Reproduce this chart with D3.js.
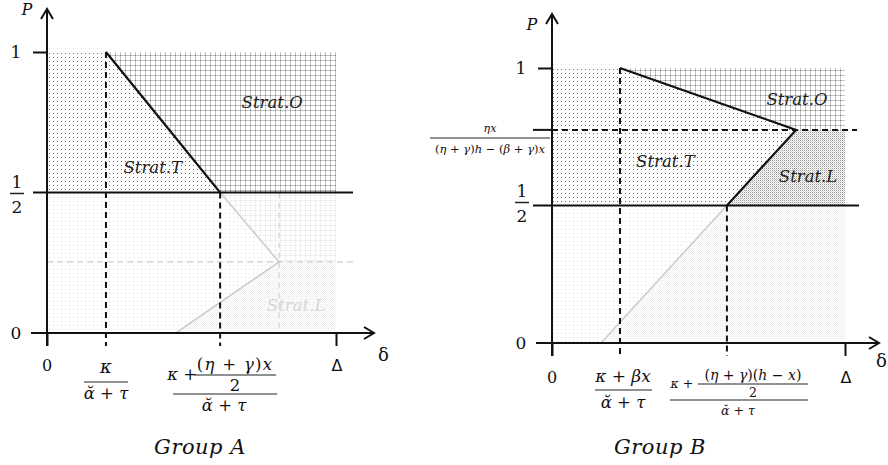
<!DOCTYPE html>
<html><head><meta charset="utf-8">
<script src="https://cdn.jsdelivr.net/npm/d3@7"></script>
<style>body{margin:0;background:#fff}svg{display:block}</style>
</head><body>
<script>
// ---------- DATA ----------
const DELTA = 1;
const groupNames = ["Group A", "Group B"];
const pTicks = [0, 0.5, 1];
// Group A: black boundary (δ, P) and faded continuation
const aBlackX = [0.204, 0.599];
const aBlackP = [1, 0.5];
const aGrayX = [0.599, 0.803, 0.446];
const aGrayP = [0.5, 0.253, 0];
// Group B
const bBlackX = [0.232, 0.833, 0.597];
const bBlackP = [1, 0.775, 0.5];
const bGrayX = [0.597, 0.167];
const bGrayP = [0.5, 0];
const stratLabels = ["Strat.O", "Strat.T", "Strat.L"];

// ---------- SETUP ----------
const W = 888, H = 465;
const svg = d3.select("body").append("svg").attr("width", W).attr("height", H);
const defs = svg.append("defs");
function pat(id, size, cells, bg) {
  const p = defs.append("pattern").attr("id", id).attr("patternUnits", "userSpaceOnUse")
    .attr("x", 0).attr("y", 0).attr("width", size).attr("height", size);
  p.append("rect").attr("width", size).attr("height", size).attr("fill", bg || "#fff");
  cells.forEach(c => p.append("rect").attr("x", c[0]).attr("y", c[1]).attr("width", c[2]).attr("height", c[3]).attr("fill", c[4]));
}
pat("dots", 4, [[1, 1, 1, 1, "#707070"]]);
pat("grid", 5, [[0, 0, 5, 1, "#c4c4c4"], [0, 0, 1, 5, "#c4c4c4"], [0, 0, 1, 1, "#808080"]]);
pat("dense", 2, [[0, 0, 1, 1, "#999"], [1, 1, 1, 1, "#d4d4d4"]]);

const serif = "'DejaVu Serif', 'Liberation Serif', serif";

function txt(g, x, y, s, opt) {
  opt = opt || {};
  return g.append("text").attr("x", x).attr("y", y).text(s)
    .attr("text-anchor", opt.anchor || "middle")
    .attr("font-family", opt.family || serif)
    .attr("font-size", opt.size || 16)
    .attr("font-style", opt.style || "normal")
    .attr("letter-spacing", opt.ls || 0)
    .attr("fill", opt.fill || "#111");
}
// math text: letters italic, operators/digits upright
function mtxt(g, x, y, s, size, ls) {
  const t = g.append("text").attr("x", x).attr("y", y).attr("text-anchor", "middle")
    .attr("font-family", serif).attr("font-size", size).attr("fill", "#111")
    .attr("letter-spacing", ls || 0);
  const runs = s.match(/([A-Za-zα-ωᾰ]+|[^A-Za-zα-ωᾰ]+)/g);
  runs.forEach(r => t.append("tspan").text(r)
    .attr("font-style", /[A-Za-zα-ωᾰ]/.test(r) ? "italic" : "normal"));
  return t;
}
function bar(g, x1, x2, y, w) {
  g.append("line").attr("x1", x1).attr("x2", x2).attr("y1", y).attr("y2", y)
    .attr("stroke", "#222").attr("stroke-width", w || 1.2);
}

function panel(cfg) {
  const g = svg.append("g");
  const x = d3.scaleLinear().domain([0, DELTA]).range([cfg.x0, cfg.xD]);
  const y = d3.scaleLinear().domain([0, 1]).range([cfg.y0, cfg.y1]);
  const line = d3.line().x(d => x(d[0])).y(d => y(d[1]));
  cfg.regions.forEach(r => g.append("path").attr("d", line(r.pts) + "Z").attr("fill", "url(#" + r.fill + ")"));
  g.append("rect").attr("x", x(0)).attr("y", y(0.5)).attr("width", x(DELTA) - x(0)).attr("height", y(0) - y(0.5))
    .attr("fill", "#fff").attr("opacity", 0.78);
  (cfg.grayDashed || []).forEach(s => g.append("path").attr("d", line(s)).attr("fill", "none")
    .attr("stroke", "#dcdcdc").attr("stroke-width", 1.6).attr("stroke-dasharray", "6,4"));
  g.append("path").attr("d", line(cfg.gray)).attr("fill", "none").attr("stroke", "#cdcdcd").attr("stroke-width", 1.6);
  cfg.dashed.forEach(s => {
    const pts = s.map(d => [d[0] === "x" ? x(d[1]) : d[0], d[2] === "y" ? y(d[3]) : d[2]]);
    g.append("path").attr("d", d3.line()(pts)).attr("fill", "none")
      .attr("stroke", "#111").attr("stroke-width", 2).attr("stroke-dasharray", "6,4");
  });
  g.append("line").attr("x1", cfg.halfL).attr("x2", cfg.halfR).attr("y1", y(0.5)).attr("y2", y(0.5))
    .attr("stroke", "#111").attr("stroke-width", 2);
  g.append("path").attr("d", line(cfg.black)).attr("fill", "none").attr("stroke", "#111").attr("stroke-width", 2.2);
  // axes
  const ax = g.append("g").attr("transform", `translate(0,${y(0)})`)
    .call(d3.axisBottom(x).tickValues([0, DELTA]).tickSize(13).tickFormat(""));
  const ay = g.append("g").attr("transform", `translate(${x(0)},0)`)
    .call(d3.axisLeft(y).tickValues([1]).tickSize(14).tickFormat(""));
  [ax, ay].forEach(a => { a.select(".domain").remove(); a.selectAll("line").attr("stroke", "#111").attr("stroke-width", 2); });
  g.append("line").attr("x1", x(0)).attr("x2", x(0)).attr("y1", y(0) + 13).attr("y2", cfg.yTop)
    .attr("stroke", "#111").attr("stroke-width", 2);
  g.append("path").attr("d", `M${x(0) - 6},${cfg.yTop + 10}L${x(0)},${cfg.yTop}L${x(0) + 6},${cfg.yTop + 10}`)
    .attr("fill", "none").attr("stroke", "#111").attr("stroke-width", 2);
  g.append("line").attr("x1", x(0) - 16).attr("x2", cfg.xTip).attr("y1", y(0)).attr("y2", y(0))
    .attr("stroke", "#111").attr("stroke-width", 2);
  g.append("path").attr("d", `M${cfg.xTip - 10},${y(0) - 6}L${cfg.xTip},${y(0)}L${cfg.xTip - 10},${y(0) + 6}`)
    .attr("fill", "none").attr("stroke", "#111").attr("stroke-width", 2);
  // y tick labels
  const lx = x(0) - 31;
  txt(g, lx, y(1) + 6, "1", { size: 17 });
  txt(g, lx, y(0) + 6, "0", { size: 17 });
  txt(g, lx + 1, y(0.5) - 5 + cfg.halfDy, "1", { size: 17 });
  bar(g, lx - 6, lx + 8, y(0.5) + 1 + cfg.halfDy, 1.5);
  txt(g, lx + 1, y(0.5) + 20 + cfg.halfDy, "2", { size: 17 });
  txt(g, x(0) - 20, cfg.yTop + 6 + cfg.pDy, "P", { size: 16, style: "italic" });
  // x tick labels
  txt(g, x(0), y(0) + cfg.lblDy, "0", { size: 16 });
  txt(g, x(DELTA) + 1, y(0) + cfg.lblDy, "Δ", { size: 16, family: "'DejaVu Sans', sans-serif" });
  txt(g, cfg.xTip + cfg.deltaDx, y(0) + cfg.deltaDy, "δ", { size: 18, anchor: "start" });
  cfg.strat.forEach((s, i) => txt(g, x(s[0]), y(s[1]), stratLabels[i],
    { size: 16.5, style: "italic", fill: s[2] || "#222" }));
  txt(g, cfg.groupX, 454, cfg.group, { size: 21, style: "italic", ls: 0.5 });
  return { g, x, y };
}

// ---------- GROUP A ----------
const A = panel({
  x0: 47, xD: 336, y0: 333, y1: 52, yTop: 9, xTip: 374, halfL: 33, halfR: 353, halfDy: 0, pDy: 0,
  lblDy: 38, deltaDy: 28, deltaDx: 4,
  regions: [
    { fill: "dots", pts: [[0, 0], [0, 1], [aBlackX[0], 1], [aBlackX[1], 0.5], [aGrayX[1], aGrayP[1]], [aGrayX[2], 0]] },
    { fill: "grid", pts: [[aBlackX[0], 1], [DELTA, 1], [DELTA, aGrayP[1]], [aGrayX[1], aGrayP[1]], [aBlackX[1], 0.5]] },
    { fill: "dense", pts: [[aGrayX[2], 0], [aGrayX[1], aGrayP[1]], [DELTA, aGrayP[1]], [DELTA, 0]] }
  ],
  gray: aGrayX.map((v, i) => [v, aGrayP[i]]),
  grayDashed: [[[0, aGrayP[1]], [1.06, aGrayP[1]]], [[aGrayX[1], 0.5], [aGrayX[1], 0]]],
  black: aBlackX.map((v, i) => [v, aBlackP[i]]),
  dashed: [
    [["x", aBlackX[0], "y", 1], ["x", aBlackX[0], 346, 0]],
    [["x", aBlackX[1], "y", 0.5], ["x", aBlackX[1], 346, 0]]
  ],
  strat: [[0.779, 0.80], [0.366, 0.57], [0.862, 0.08, "#d6d6d6"]],
  group: groupNames[0], groupX: 200
});
(function () {
  const g = A.g, x = A.x;
  const c1 = x(aBlackX[0]);
  mtxt(g, c1, 373, "κ", 18);
  bar(g, c1 - 22, c1 + 22, 382);
  mtxt(g, c1, 399, "ᾰ + τ", 16.5);
  const c2 = x(aBlackX[1]) + 4;
  mtxt(g, c2 - 42, 380, "κ +", 16.5);
  mtxt(g, c2 + 11, 370, "(η + γ)x", 16.5, 1.3);
  bar(g, c2 - 30, c2 + 52, 375);
  mtxt(g, c2 + 11, 391, "2", 16.5);
  bar(g, c2 - 51, c2 + 53, 394);
  mtxt(g, c2, 411, "ᾰ + τ", 16.5);
})();

// ---------- GROUP B ----------
const B = panel({
  x0: 552, xD: 845, y0: 343, y1: 68, yTop: 14, xTip: 879, halfL: 533, halfR: 859, halfDy: -4, pDy: 10,
  lblDy: 40, deltaDy: 24, deltaDx: -3,
  regions: [
    { fill: "dots", pts: [[0, 0], [0, 1], [bBlackX[0], 1], [bBlackX[1], bBlackP[1]], [bBlackX[2], 0.5], [bGrayX[1], 0]] },
    { fill: "grid", pts: [[bBlackX[0], 1], [DELTA, 1], [DELTA, bBlackP[1]], [bBlackX[1], bBlackP[1]]] },
    { fill: "dense", pts: [[bBlackX[1], bBlackP[1]], [DELTA, bBlackP[1]], [DELTA, 0], [bGrayX[1], 0], [bBlackX[2], 0.5]] }
  ],
  gray: bGrayX.map((v, i) => [v, bGrayP[i]]),
  black: bBlackX.map((v, i) => [v, bBlackP[i]]),
  dashed: [
    [["x", bBlackX[0], "y", 1], ["x", bBlackX[0], 356, 0]],
    [["x", bBlackX[2], "y", 0.5], ["x", bBlackX[2], 356, 0]],
    [["x", 0, "y", bBlackP[1]], [857, 0, "y", bBlackP[1]]]
  ],
  strat: [[0.836, 0.865], [0.387, 0.64], [0.874, 0.585]],
  group: groupNames[1], groupX: 660
});
(function () {
  const g = B.g, x = B.x, y = B.y;
  g.append("line").attr("x1", x(0) - 19).attr("x2", x(0)).attr("y1", y(bBlackP[1])).attr("y2", y(bBlackP[1]))
    .attr("stroke", "#111").attr("stroke-width", 2);
  mtxt(g, 490, 132, "ηx", 11);
  bar(g, 430, 550, 138, 1);
  mtxt(g, 490, 153, "(η + γ)h − (β + γ)x", 11.5);
  const c1 = x(bBlackX[0]) + 3;
  mtxt(g, c1, 382, "κ + βx", 17);
  bar(g, c1 - 28, c1 + 29, 390);
  mtxt(g, c1, 408, "ᾰ + τ", 16.5);
  const c2 = x(bBlackX[2]) + 11;
  mtxt(g, c2 - 56, 388, "κ +", 12.5);
  mtxt(g, c2 + 15, 380, "(η + γ)(h − x)", 14);
  bar(g, c2 - 40, c2 + 70, 384, 1);
  mtxt(g, c2 + 15, 397, "2", 12.5);
  bar(g, c2 - 68, c2 + 70, 400, 1);
  mtxt(g, c2, 415, "ᾰ + τ", 12.5);
})();
</script>
</body></html>
